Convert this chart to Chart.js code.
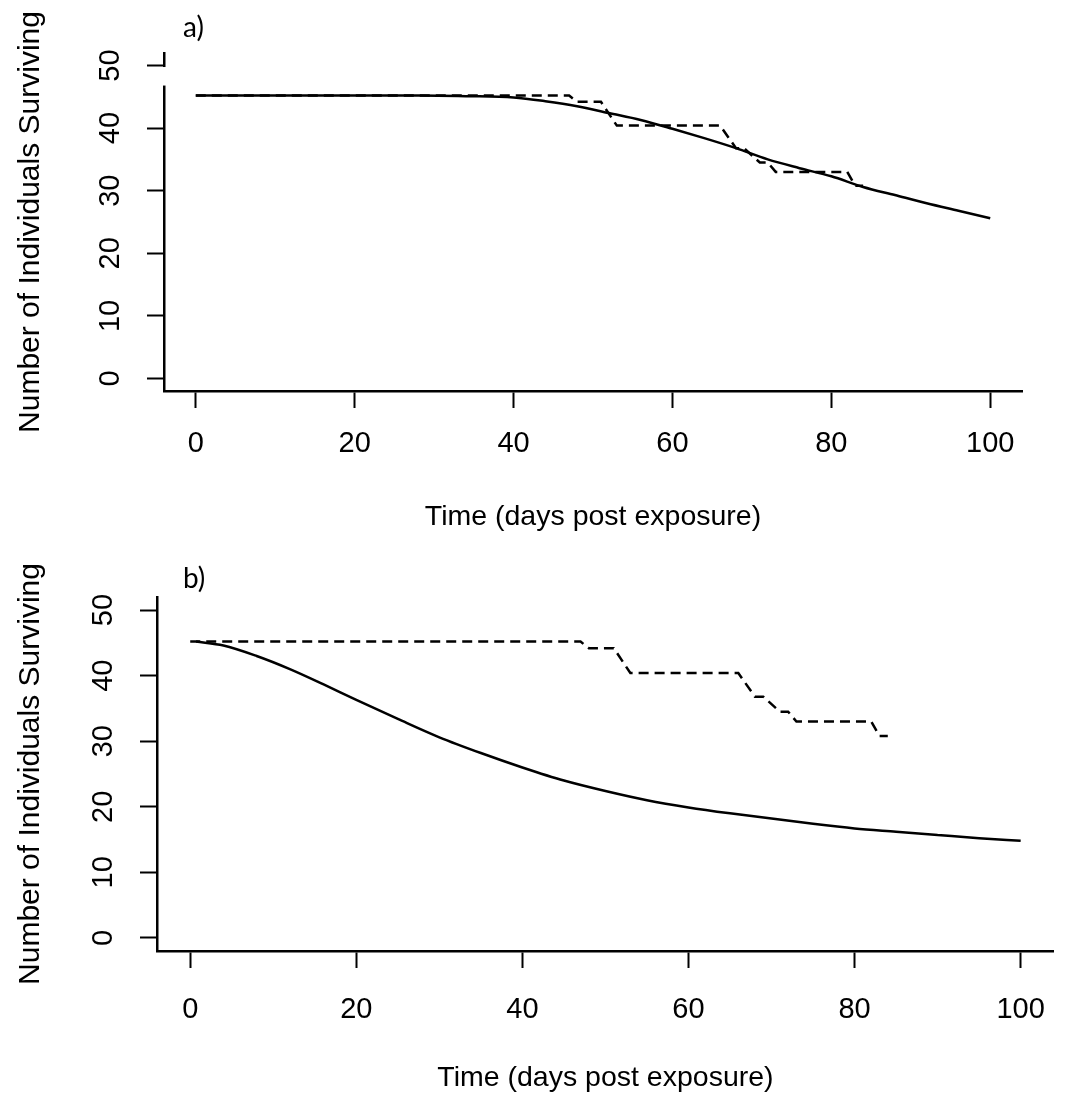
<!DOCTYPE html>
<html>
<head>
<meta charset="utf-8">
<script src="https://cdn.jsdelivr.net/npm/chart.js"></script>
<style>
  body { margin: 0; background: #fff; }
  .wrap { position: relative; width: 1070px; height: 1108px; }
  canvas { position: absolute; left: 0; }
</style>
</head>
<body>
<div class="wrap">
  <canvas id="chartA" width="1070" height="555" style="top:0"></canvas>
  <canvas id="chartB" width="1070" height="553" style="top:555px"></canvas>
</div>
<script>
// observed survivors (dashed), same in both panels
const obsDays = [0, 47, 48, 51, 53, 66, 68, 69, 71, 72, 73, 82, 83, 84];
const obsCount = [45.2, 45.2, 44.2, 44.2, 40.4, 40.4, 36.8, 36.8, 34.5, 34.5, 33.0, 33.0, 30.8, 30.8];

// panel a) model fit (solid)
const fitADays = [0, 28, 34, 40, 44, 48, 52, 56, 60, 64, 68, 72, 76, 80, 84, 88, 92, 96, 100];
const fitACount = [45.2, 45.2, 45.1, 44.9, 44.3, 43.5, 42.4, 41.3, 39.9, 38.4, 36.8, 35.0, 33.6, 32.3, 30.6, 29.3, 28.0, 26.8, 25.6];

// panel b) model fit (solid)
const fitBDays = [0.7, 4, 8, 12, 16, 20, 25, 30, 35, 40, 45, 50, 55, 60, 65, 70, 75, 80, 85, 90, 95, 100];
const fitBCount = [45.2, 44.6, 43.0, 41.0, 38.7, 36.3, 33.4, 30.6, 28.2, 26.0, 24.0, 22.4, 21.0, 19.9, 19.0, 18.2, 17.4, 16.7, 16.2, 15.7, 15.2, 14.8];

const xTicks = [0, 20, 40, 60, 80, 100];
const yTicks = [0, 10, 20, 30, 40, 50];
const xTitle = 'Time (days post exposure)';
const yTitle = 'Number of Individuals Surviving';

const FONT = '"Liberation Sans", Arial, sans-serif';

function pts(xs, ys) {
    return xs.map((x, i) => ({ x: x, y: ys[i] }));
}

// y tick labels in R style (rotated, parallel to the axis) plus panel letter
function panelPlugin(letter, letterY, coverAxis) {
    return {
        id: 'panel' + letter,
        afterDraw(chart) {
            const ctx = chart.ctx;
            const y = chart.scales.y;
            const area = chart.chartArea;
            ctx.save();
            if (coverAxis) {
                // the white patch over the top of the axis in panel a)
                ctx.fillStyle = '#fff';
                const t = y.getPixelForValue(50) + 1.5;
                ctx.fillRect(area.left - 3, t, 20, y.getPixelForValue(46.8) - t);
            }
            ctx.fillStyle = '#000';
            ctx.font = '29px ' + FONT;
            ctx.textAlign = 'center';
            ctx.textBaseline = 'middle';
            yTicks.forEach(v => {
                ctx.save();
                ctx.translate(area.left - 53, y.getPixelForValue(v));
                ctx.rotate(-Math.PI / 2);
                ctx.fillText(String(v), 0, 0);
                ctx.restore();
            });
            ctx.font = '28px Lato, "Noto Sans", sans-serif';
            ctx.textAlign = 'left';
            ctx.textBaseline = 'alphabetic';
            ctx.fillText(letter, 183, letterY);
            ctx.restore();
        }
    };
}

function makeChart(id, fitDays, fitCount, opt) {
    return new Chart(document.getElementById(id), {
        type: 'line',
        data: {
            datasets: [{
                data: pts(fitDays, fitCount),
                borderColor: '#000',
                borderWidth: 2.5,
                pointRadius: 0,
                cubicInterpolationMode: 'monotone'
            }, {
                data: pts(obsDays, obsCount),
                borderColor: '#000',
                borderWidth: 2.5,
                borderDash: [10, 6],
                pointRadius: 0,
                tension: 0
            }]
        },
        options: {
            responsive: false,
            animation: false,
            devicePixelRatio: 1,
            layout: { padding: { left: 0, right: opt.right, top: opt.top, bottom: 0 } },
            plugins: { legend: { display: false }, tooltip: { enabled: false } },
            scales: {
                x: {
                    type: 'linear',
                    min: -4,
                    max: 104,
                    afterBuildTicks: s => { s.ticks = xTicks.map(v => ({ value: v })); },
                    afterFit: s => { s.height = opt.xHeight; },
                    grid: { drawOnChartArea: false, drawTicks: true, tickLength: 17, tickWidth: 2, tickColor: '#000' },
                    border: { display: true, color: '#000', width: 2.5 },
                    ticks: { color: '#000', font: { family: FONT, size: 29 }, padding: opt.tickPad, maxRotation: 0 },
                    title: { display: true, text: xTitle, color: '#000', font: { family: FONT, size: 28.5 }, padding: { top: 0, bottom: opt.titlePad } }
                },
                y: {
                    type: 'linear',
                    min: -2,
                    max: 52,
                    afterBuildTicks: s => { s.ticks = yTicks.map(v => ({ value: v })); },
                    afterFit: s => { s.width = opt.left; },
                    grid: { drawOnChartArea: false, drawTicks: true, tickLength: 17, tickWidth: 2, tickColor: '#000' },
                    border: { display: true, color: '#000', width: 2.5 },
                    ticks: { display: false },
                    title: { display: true, text: yTitle, color: '#000', font: { family: FONT, size: 30 }, padding: { top: 13, bottom: 0 } }
                }
            }
        },
        plugins: [panelPlugin(opt.letter, opt.letterY, opt.cover)]
    });
}

makeChart('chartA', fitADays, fitACount, {
    left: 164, right: 48, top: 53, xHeight: 164, tickPad: 19, titlePad: 21,
    letter: 'a)', letterY: 37, cover: true
});
makeChart('chartB', fitBDays, fitBCount, {
    left: 157, right: 4, top: 42, xHeight: 157, tickPad: 25, titlePad: 13,
    letter: 'b)', letterY: 33, cover: false
});
</script>
</body>
</html>
